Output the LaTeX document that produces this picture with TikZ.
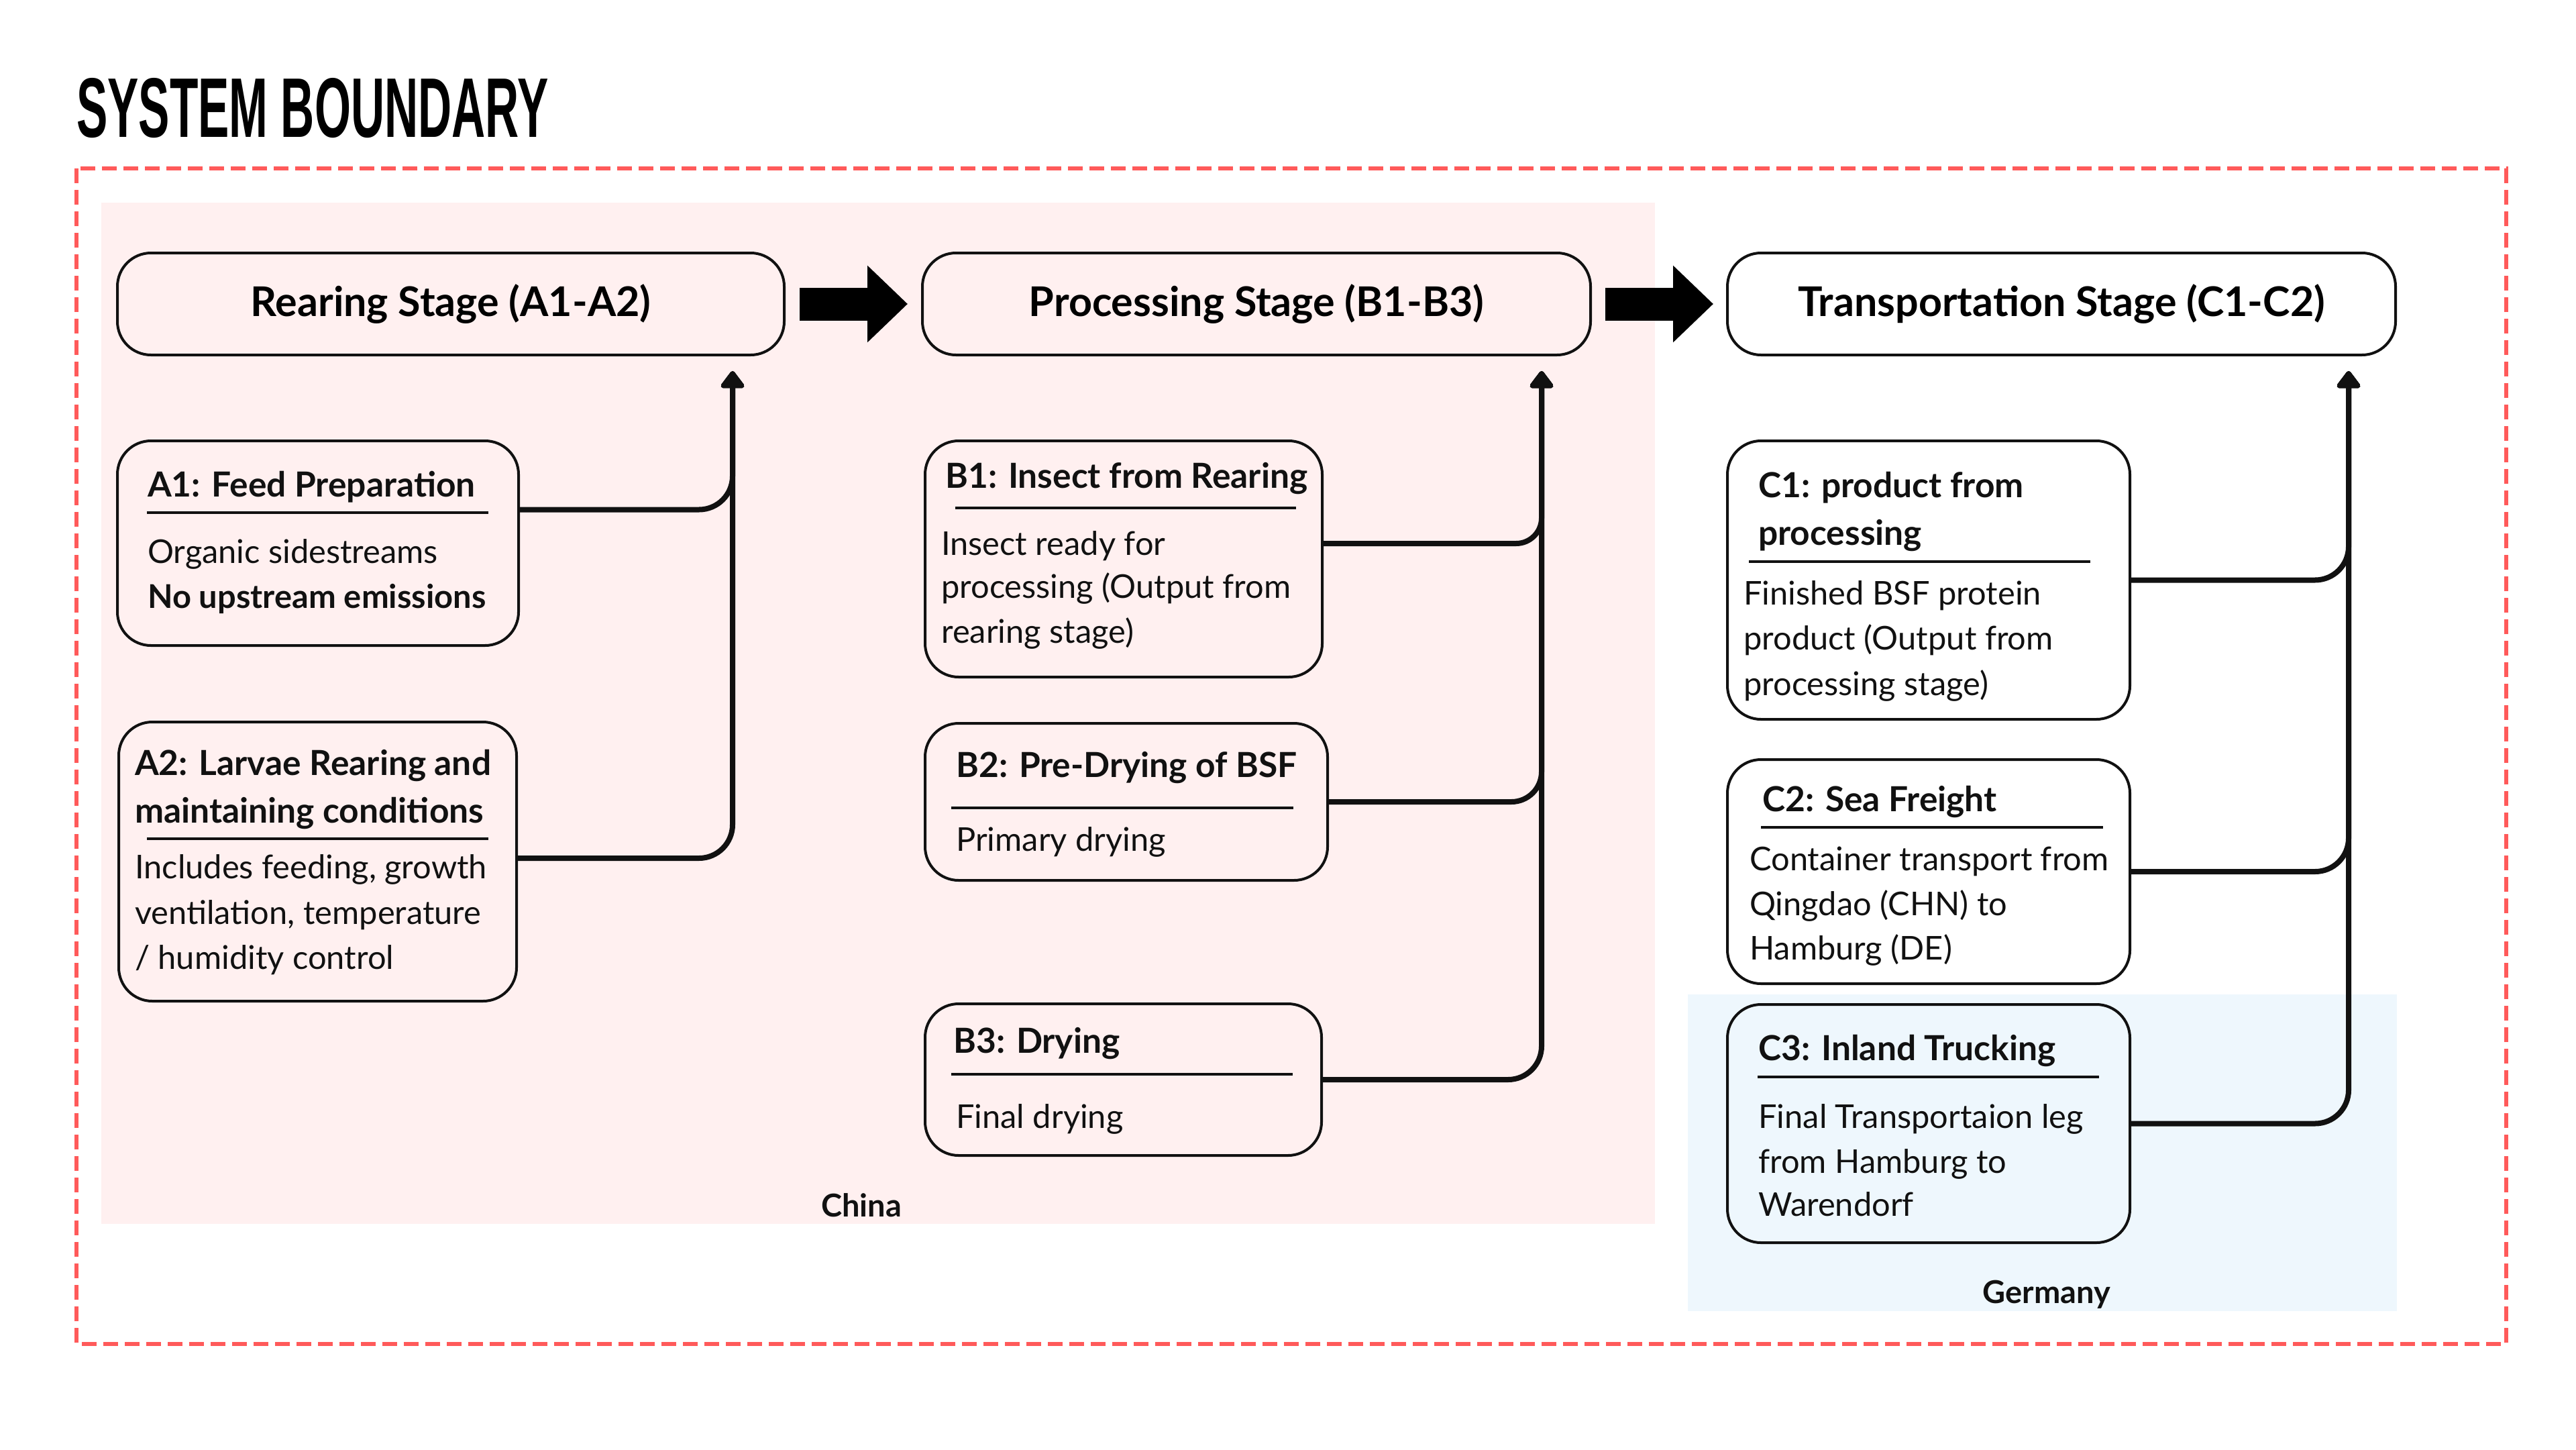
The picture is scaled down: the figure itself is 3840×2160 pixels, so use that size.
\documentclass[tikz,border=0pt]{standalone}
\usepackage{fontspec}
\setmainfont{Lato}
\newfontfamily\titlefont{Liberation Sans}
\usetikzlibrary{arrows.meta}
\definecolor{bord}{HTML}{FF5A5A}
\definecolor{pinkbg}{HTML}{FFF0F0}
\definecolor{bluebg}{HTML}{EEF7FD}
\definecolor{ink}{HTML}{111111}
\begin{document}
\begin{tikzpicture}[x=1pt,y=-1pt,
 stagebox/.style={draw=ink, line width=4pt, rounded corners=50pt, inner sep=0pt, font=\fontsize{61}{70}\selectfont\bfseries},
 subbox/.style={draw=ink, line width=4pt, rounded corners=50pt, inner sep=0pt},
 ttl/.style={anchor=base west, inner sep=0pt, text=ink, font=\fontsize{51.5}{60}\selectfont\bfseries},
 body/.style={anchor=base west, inner sep=0pt, text=ink, font=\fontsize{48.8}{60}\selectfont},
 uline/.style={draw=ink, line width=3.5pt},
 conn/.style={draw=ink, line width=8pt, rounded corners=50pt, -{Triangle[width=40pt,length=28pt,round]}},
 bigarrow/.style={draw=black, line width=49pt, -{Triangle[width=111pt,length=60pt]}},
 region/.style={anchor=base, inner sep=0pt, text=ink, font=\fontsize{47}{55}\selectfont\bfseries}
]
\useasboundingbox (0,0) rectangle (3840,2160);
\fill[white] (0,0) rectangle (3840,2160);
% regions
\fill[pinkbg] (151,302) rectangle (2467,1824);
\fill[bluebg] (2516,1482) rectangle (3573,1954);
\draw[bord, line width=6pt, dash pattern=on 22pt off 10pt] (114,251) rectangle (3736,2003);
% title
\node[anchor=base west, inner sep=0pt] (title) at (114,204) {\resizebox{703pt}{88pt}{\titlefont\bfseries SYSTEM BOUNDARY}};
% stage boxes
\node[stagebox, minimum width=994pt, minimum height=152pt] (R) at (672,453) {Rearing Stage (A1-A2)};
\node[stagebox, minimum width=996pt, minimum height=152pt] (P) at (1873,453) {Processing Stage (B1-B3)};
\node[stagebox, minimum width=996pt, minimum height=152pt] (T) at (3073,453) {Transportation Stage (C1-C2)};
\draw[bigarrow] ([xshift=21pt]R.east) -- ([xshift=-20pt]P.west);
\draw[bigarrow] ([xshift=20pt]P.east) -- ([xshift=-19pt]T.west);
% sub boxes
\node[subbox, minimum width=598pt, minimum height=305pt] (A1) at (474,809.5) {};
\node[subbox, minimum width=593pt, minimum height=416pt] (A2) at (473.5,1284) {};
\node[subbox, minimum width=592pt, minimum height=352pt] (B1) at (1675,833) {};
\node[subbox, minimum width=600pt, minimum height=234pt] (B2) at (1679,1195) {};
\node[subbox, minimum width=591pt, minimum height=226pt] (B3) at (1674.5,1609) {};
\node[subbox, minimum width=600pt, minimum height=415pt] (C1) at (2875,864.5) {};
\node[subbox, minimum width=600pt, minimum height=334pt] (C2) at (2875,1299) {};
\node[subbox, minimum width=600pt, minimum height=355pt] (C3) at (2875,1674.5) {};
% arrow targets
\coordinate (Atip) at (1092,553);
\coordinate (Btip) at (2298,553);
\coordinate (Ctip) at (3501,553);
% connectors
\draw[conn] ([yshift=50pt]A1.east) -| (Atip);
\draw[conn] ([yshift=5pt]A2.east) -| (Atip);
\draw[conn, rounded corners=38pt] ([yshift=23pt]B1.east) -| (Btip);
\draw[conn, rounded corners=45pt] (B2.east) -| (Btip);
\draw[conn] (B3.east) -| (Btip);
\draw[conn] (C1.east) -| (Ctip);
\draw[conn] (C2.east) -| (Ctip);
\draw[conn] (C3.east) -| (Ctip);
% A1
\node[ttl] (A1t) at (220,740) {A1: Feed Preparation};
\draw[uline] (219,764) -- (728,764);
\node[body] (A1b1) at (220,839) {Organic sidestreams};
\node[body, font=\fontsize{48.8}{60}\selectfont\bfseries] (A1b2) at (220,906) {No upstream emissions};
% A2
\node[ttl] (A2t1) at (201,1155) {A2: Larvae Rearing and};
\node[ttl] (A2t2) at (201,1226) {maintaining conditions};
\draw[uline] (219,1250) -- (728,1250);
\node[body] (A2b1) at (201,1309) {Includes feeding, growth};
\node[body] (A2b2) at (201,1377) {ventilation, temperature};
\node[body] (A2b3) at (201,1444) {/ humidity control};
% B1
\node[ttl] (B1t) at (1409,727) {B1: Insect from Rearing};
\draw[uline] (1424,757) -- (1932,757);
\node[body] (B1b1) at (1403,827) {Insect ready for};
\node[body] (B1b2) at (1403,891) {processing (Output from};
\node[body] (B1b3) at (1403,958) {rearing stage)};
% B2
\node[ttl] (B2t) at (1425,1158) {B2: Pre-Drying of BSF};
\draw[uline] (1418,1204) -- (1928,1204);
\node[body] (B2b1) at (1425,1268) {Primary drying};
% B3
\node[ttl] (B3t) at (1421,1569) {B3: Drying};
\draw[uline] (1418,1601) -- (1927,1601);
\node[body] (B3b1) at (1425,1681) {Final drying};
% C1
\node[ttl] (C1t1) at (2621,741) {C1: product from};
\node[ttl] (C1t2) at (2621,812) {processing};
\draw[uline] (2607,837) -- (3116,837);
\node[body] (C1b1) at (2599,901) {Finished BSF protein};
\node[body] (C1b2) at (2599,968) {product (Output from};
\node[body] (C1b3) at (2599,1036) {processing stage)};
% C2
\node[ttl] (C2t) at (2627,1209) {C2: Sea Freight};
\draw[uline] (2625,1233) -- (3135,1233);
\node[body] (C2b1) at (2608,1297) {Container transport from};
\node[body] (C2b2) at (2608,1364) {Qingdao (CHN) to};
\node[body] (C2b3) at (2608,1430) {Hamburg (DE)};
% C3
\node[ttl] (C3t) at (2621,1580) {C3: Inland Trucking};
\draw[uline] (2620,1605) -- (3129,1605);
\node[body] (C3b1) at (2621,1681) {Final Transportaion leg};
\node[body] (C3b2) at (2621,1748) {from Hamburg to};
\node[body] (C3b3) at (2621,1812) {Warendorf};
% region labels
\node[region] (china) at (1284,1813) {China};
\node[region] (germany) at (3051,1942) {Germany};
\end{tikzpicture}
\end{document}
